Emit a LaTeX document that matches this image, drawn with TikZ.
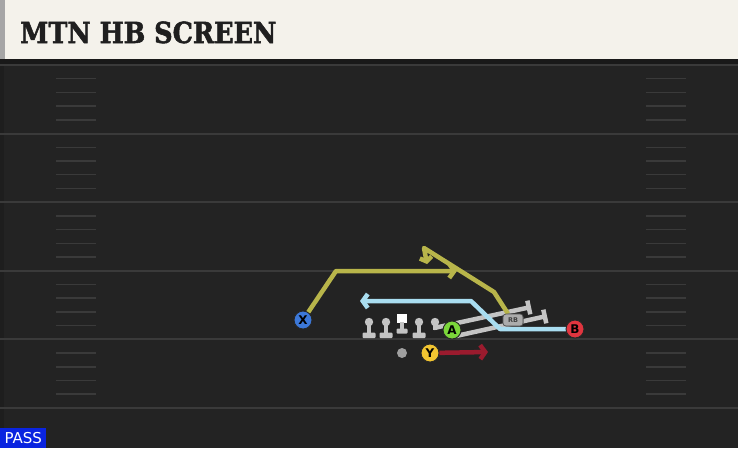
\documentclass[tikz,border=0pt]{standalone}
\usepackage{fontspec}
\setmainfont{DejaVu Sans}
\newfontfamily\titlefont{DejaVu Serif}[BoldFeatures={FakeBold=1.8}]
\usetikzlibrary{arrows.meta}
\definecolor{fieldbg}{HTML}{232323}
\definecolor{fieldline}{HTML}{3A3A3A}
\definecolor{header}{HTML}{F4F2EB}
\definecolor{routeyellow}{HTML}{B8B54A}
\definecolor{routeblue}{HTML}{A9DDF0}
\definecolor{routered}{HTML}{9B1B2E}
\definecolor{lineman}{HTML}{C4C4C4}
\definecolor{passblue}{HTML}{0A24E0}
\tikzset{>=latex}
\tikzset{
  player/.style={circle, draw=black!85, line width=0.9pt, minimum size=18pt,
    inner sep=0pt, text=black, font=\bfseries\fontsize{12}{12}\selectfont},
  route/.style={line width=4.5pt, line join=round,
    -{Straight Barb[length=5pt,width=14pt]}},
  block/.style={line width=4.5pt, draw=lineman, -{Bar[width=14pt]}},
  rbtag/.style={fill=gray!65, draw=black!70, line width=0.6pt, rounded corners=3pt,
    inner sep=0pt, minimum width=20pt, minimum height=12pt, text=black!75,
    font=\bfseries\fontsize{6.5}{6.5}\selectfont},
  yardline/.style={draw=fieldline, line width=2pt},
  hashmark/.style={draw=fieldline, line width=1.5pt}
}

\begin{document}
\begin{tikzpicture}[x=1pt,y=-1pt]
  \useasboundingbox (0,0) rectangle (738,448);
  % field
  \fill[fieldbg] (0,0) rectangle (738,448);
  \fill[black!15!fieldbg] (0,60) rectangle (4,448);
  \foreach \i in {0,...,5}
    \draw[yardline] (0,{65+68.6*\i}) -- (738,{65+68.6*\i});
  \foreach \i in {0,...,4}
    \foreach \k in {1,...,4} {
      \draw[hashmark] (56,{65+68.6*\i+13.7*\k}) -- (96,{65+68.6*\i+13.7*\k});
      \draw[hashmark] (646,{65+68.6*\i+13.7*\k}) -- (686,{65+68.6*\i+13.7*\k});
    }
  % header
  \fill[black!90] (0,58) rectangle (738,64);
  \fill[header] (0,0) rectangle (738,59);
  \fill[black!35] (0,0) rectangle (5,59);
  \node[anchor=base west, inner sep=0pt, text=black!88] (title) at (20,43)
    {\scalebox{0.88}[1]{\titlefont\bfseries\fontsize{29}{29}\selectfont MTN HB SCREEN}};
  % play type
  \node[fill=passblue, text=white, anchor=south west, inner sep=0pt,
    minimum width=46pt, minimum height=20pt, font=\fontsize{15}{15}\selectfont] (pass) at (0,448) {PASS};

  % line
  \foreach \x in {369,386,419} {
    \fill[lineman] (\x,322) circle (4.2);
    \fill[lineman] (\x-2,322) rectangle (\x+2,334);
    \fill[lineman, rounded corners=1pt] (\x-6.5,332.5) rectangle (\x+6.5,338);
  }
  \fill[white] (397,314) rectangle (407,323);
  \fill[lineman] (400,322) rectangle (404,330);
  \fill[lineman, rounded corners=1pt] (396.5,328.5) rectangle (407.5,333.5);
  \fill[lineman] (435,322) circle (4.2);
  \fill[lineman] (433,322) rectangle (437,330);
  \fill[gray!75] (402,353) circle (5);

  \coordinate (lt) at (434,328);
  \coordinate (lte) at (531,307);
  \coordinate (ls) at (456,336);
  \coordinate (lse) at (547,316);
  \draw[block] (lt) -- (lte);
  \draw[block] (ls) -- (lse);

  % players
  \node[player, fill={rgb,255:red,60;green,120;blue,216}] (X) at (303,320) {X};
  \node[player, fill={rgb,255:red,123;green,214;blue,58}] (A) at (452,330) {A};
  \node[player, fill={rgb,255:red,242;green,197;blue,49}] (Y) at (430,353) {Y};
  \node[rbtag] (rb) at (513,320) {RB};

  % routes
  \coordinate (x1) at (336,271);
  \coordinate (x2) at (457,271);
  \draw[route, routeyellow] (X) -- (x1) -- (x2);
  \coordinate (r1) at (494,292);
  \coordinate (r2) at (424,248);
  \coordinate (r3) at (427,264);
  \draw[route, routeyellow, -{Straight Barb[length=4pt,width=12pt]}]
    ([xshift=-5pt]rb.north) -- (r1) -- (r2) -- (r3);
  \coordinate (b1) at (500,329);
  \coordinate (b2) at (471,301);
  \coordinate (b3) at (360,301);
  \draw[route, routeblue] (575,329) -- (b1) -- (b2) -- (b3);
  \coordinate (y1) at (488,352);
  \draw[route, routered] (Y) -- (y1);
  \node[player, fill={rgb,255:red,224;green,53;blue,63}] (B) at (575,329) {B};
  \node[rbtag] at (rb) {RB};
\end{tikzpicture}
\end{document}
